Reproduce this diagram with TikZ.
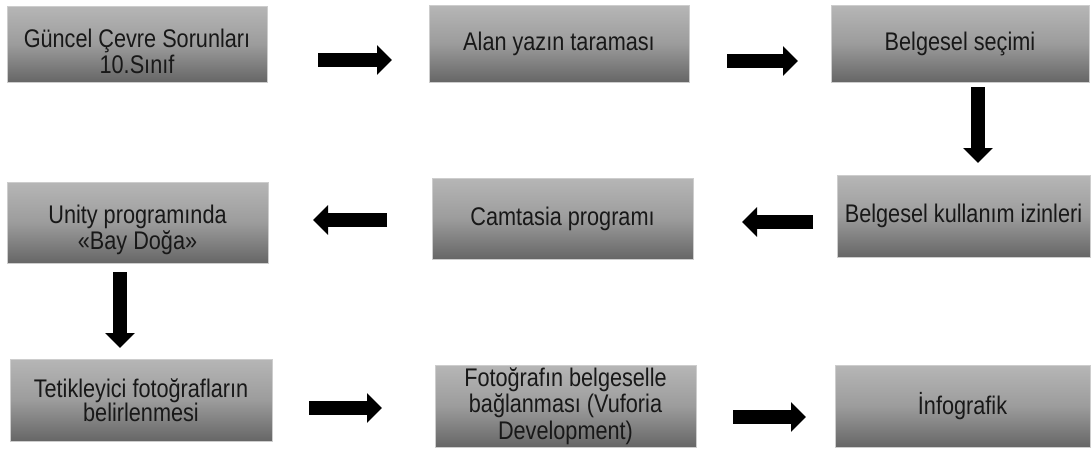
\documentclass[tikz,border=0pt]{standalone}
\usepackage{fontspec}
\setmainfont{Liberation Sans}[FakeStretch=0.85]
\usetikzlibrary{arrows.meta}
\definecolor{boxtop}{RGB}{182,182,182}
\definecolor{boxmid}{RGB}{156,156,156}
\definecolor{boxbot}{RGB}{102,102,102}
\definecolor{boxedge}{RGB}{205,205,205}
\definecolor{txt}{RGB}{24,24,24}
\newcommand{\lowtext}[2]{\raisebox{-#1}[0pt][0pt]{\begin{tabular}{@{}c@{}}#2\end{tabular}}}
\begin{document}
\begin{tikzpicture}[x=1pt,y=-1pt,
  box/.style={rectangle, draw=boxedge, line width=0.8pt,
    top color=boxtop, bottom color=boxbot, middle color=boxmid,
    inner sep=0pt, align=center, text=txt,
    font=\fontsize{25.5}{24}\selectfont},
  blk/.style={line width=14pt, draw=black, line cap=butt,
    -{Triangle[length=15pt,width=29pt]}}]
\useasboundingbox (0,0) rectangle (1091,450);
% boxes
\node[box, minimum width=260pt, minimum height=76pt] (b1) at (137,44) {\lowtext{17pt}{Güncel Çevre Sorunları\\10.Sınıf}};
\node[box, minimum width=260pt, minimum height=77pt] (b2) at (559,43.5) {Alan yazın taraması};
\node[box, minimum width=258pt, minimum height=77pt] (b3) at (960,43.5) {Belgesel seçimi};
\node[box, minimum width=253pt, minimum height=82pt] (b4) at (963.5,216) {Belgesel kullanım izinleri};
\node[box, minimum width=261pt, minimum height=81pt] (b5) at (562.5,218.5) {Camtasia programı};
\node[box, minimum width=261pt, minimum height=81pt] (b6) at (137.5,222.5) {\lowtext{15pt}{Unity programında\\«Bay Doğa»}};
\node[box, minimum width=262pt, minimum height=82pt] (b7) at (141,400) {Tetikleyici fotoğrafların\\belirlenmesi};
\node[box, minimum width=261pt, minimum height=82pt, font=\fontsize{25.5}{26.5}\selectfont] (b8) at (565.5,406) {Fotoğrafın belgeselle\\bağlanması (Vuforia\\Development)};
\node[box, minimum width=255pt, minimum height=82pt] (b9) at (962.5,406) {İnfografik};
% arrow end points
\coordinate (a1s) at (318,60);  \coordinate (a1e) at (392,60);
\coordinate (a2s) at (727,61);  \coordinate (a2e) at (798,61);
\coordinate (a3s) at (978,87);  \coordinate (a3e) at (978,163);
\coordinate (a4s) at (813,222); \coordinate (a4e) at (742,222);
\coordinate (a5s) at (387,220); \coordinate (a5e) at (313,220);
\coordinate (a6s) at (120,272); \coordinate (a6e) at (120,348);
\coordinate (a7s) at (309,408); \coordinate (a7e) at (382,408);
\coordinate (a8s) at (733,417); \coordinate (a8e) at (806,417);
\draw[blk] (a1s) -- (a1e);
\draw[blk] (a2s) -- (a2e);
\draw[blk] (a3s) -- (a3e);
\draw[blk] (a4s) -- (a4e);
\draw[blk] (a5s) -- (a5e);
\draw[blk] (a6s) -- (a6e);
\draw[blk] (a7s) -- (a7e);
\draw[blk] (a8s) -- (a8e);
\end{tikzpicture}
\end{document}
